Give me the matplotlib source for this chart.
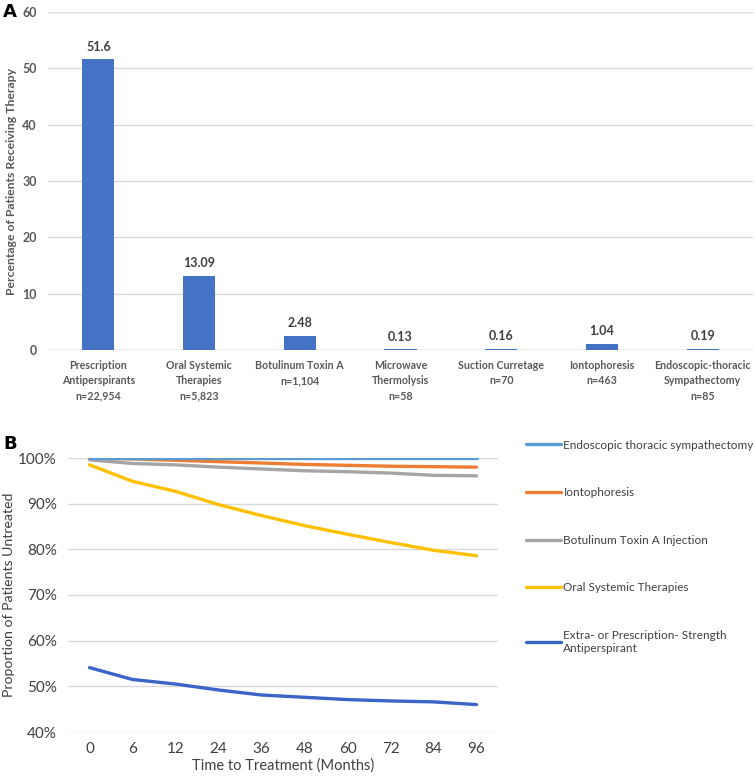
import matplotlib.pyplot as plt
from matplotlib.ticker import FuncFormatter

plt.rcParams['font.family'] = ['Lato', 'DejaVu Sans']

# Panel A data
therapies = ["Prescription\nAntiperspirants\nn=22,954", "Oral Systemic\nTherapies\nn=5,823",
             "Botulinum Toxin A\nn=1,104", "Microwave\nThermolysis\nn=58",
             "Suction Curretage\nn=70", "Iontophoresis\nn=463",
             "Endoscopic-thoracic\nSympathectomy\nn=85"]
pct_receiving = [51.6, 13.09, 2.48, 0.13, 0.16, 1.04, 0.19]
pct_labels = ["51.6", "13.09", "2.48", "0.13", "0.16", "1.04", "0.19"]

# Panel B data
months = ["0", "6", "12", "24", "36", "48", "60", "72", "84", "96"]
antiperspirant = [54.1, 51.5, 50.5, 49.2, 48.1, 47.6, 47.1, 46.8, 46.6, 46.0]
oral = [98.5, 94.9, 92.7, 89.8, 87.4, 85.2, 83.3, 81.5, 79.8, 78.6]
botox = [99.6, 98.8, 98.5, 98.0, 97.6, 97.2, 97.0, 96.7, 96.2, 96.1]
ionto = [100.0, 99.8, 99.5, 99.2, 98.9, 98.6, 98.4, 98.2, 98.1, 98.0]
endoscopic = [100.0, 100.0, 100.0, 100.0, 100.0, 100.0, 100.0, 100.0, 100.0, 100.0]

fig = plt.figure(figsize=(7.55, 7.81), dpi=100)
grey = "#595959"

# ---- A ----
axA = fig.add_axes([48 / 755, 1 - 350 / 781, 705 / 755, 338 / 781])
xs = range(len(therapies))
axA.bar(xs, pct_receiving, width=0.32, color="#4472C4", zorder=3)
for x, v, lab in zip(xs, pct_receiving, pct_labels):
    axA.text(x, v + 1.2, lab, ha="center", va="bottom", fontsize=9,
             fontweight="bold", color="#404040")
axA.set_xlim(-0.5, len(therapies) - 0.5)
axA.set_ylim(0, 60)
axA.set_yticks(range(0, 61, 10))
axA.set_xticks(list(xs))
axA.set_xticklabels(therapies, fontsize=7.7, fontweight="bold", color=grey,
                    linespacing=1.5)
axA.tick_params(axis="y", labelsize=9, colors=grey, length=0, pad=8)
axA.tick_params(axis="x", length=0, pad=7)
for lab in axA.get_yticklabels():
    lab.set_fontweight("bold")
axA.grid(axis="y", color="#d9d9d9", linewidth=1, zorder=0)
for s in axA.spines.values():
    s.set_visible(False)
axA.axhline(0, color="#d0d0d0", linewidth=1, zorder=2)
axA.set_ylabel("Percentage of Patients Receiving Therapy", fontsize=8.8,
               fontweight="bold", color=grey, labelpad=4)
fig.text(3 / 755, 1 - 12 / 781, "A", fontsize=13, fontweight="bold",
         va="center", ha="left", family="DejaVu Sans")

# ---- B ----
axB = fig.add_axes([68 / 755, 1 - 732 / 781, 430 / 755, 274 / 781])
xm = range(len(months))
series = [
    ("Endoscopic thoracic sympathectomy", endoscopic, "#5B9BD5"),
    ("Iontophoresis", ionto, "#ED7D31"),
    ("Botulinum Toxin A Injection", botox, "#A5A5A5"),
    ("Oral Systemic Therapies", oral, "#FFC000"),
    ("Extra- or Prescription- Strength\nAntiperspirant", antiperspirant, "#3A64C8"),
]
for i, (name, vals, col) in enumerate(series):
    axB.plot(xm, vals, color=col, linewidth=2.4, solid_capstyle="round",
             label=name, zorder=10 - i)
axB.set_xlim(-0.5, len(months) - 0.5)
axB.set_ylim(40, 100)
axB.set_yticks(range(40, 101, 10))
axB.yaxis.set_major_formatter(FuncFormatter(lambda v, p: f"{v:.0f}%"))
axB.set_xticks(list(xm))
axB.set_xticklabels(months)
axB.tick_params(axis="both", labelsize=11, colors="#404040", length=0)
axB.tick_params(axis="y", pad=8)
axB.tick_params(axis="x", pad=7)
axB.grid(axis="y", color="#d9d9d9", linewidth=1, zorder=0)
for s in axB.spines.values():
    s.set_visible(False)
axB.set_ylabel("Proportion of Patients Untreated", fontsize=10.2, color="#404040",
               labelpad=2)
axB.set_xlabel("Time to Treatment (Months)", fontsize=10.5, color="#404040",
               labelpad=2)
axB.legend(loc="upper left", bbox_to_anchor=(515 / 755, 1 - 429 / 781),
           bbox_transform=fig.transFigure, frameon=False, fontsize=8.5,
           handlelength=3.0, handletextpad=0.2, labelspacing=3.1,
           labelcolor="#404040")
fig.text(3 / 755, 1 - 444 / 781, "B", fontsize=13, fontweight="bold",
         va="center", ha="left", family="DejaVu Sans")

fig.savefig("out.png", dpi=100)
